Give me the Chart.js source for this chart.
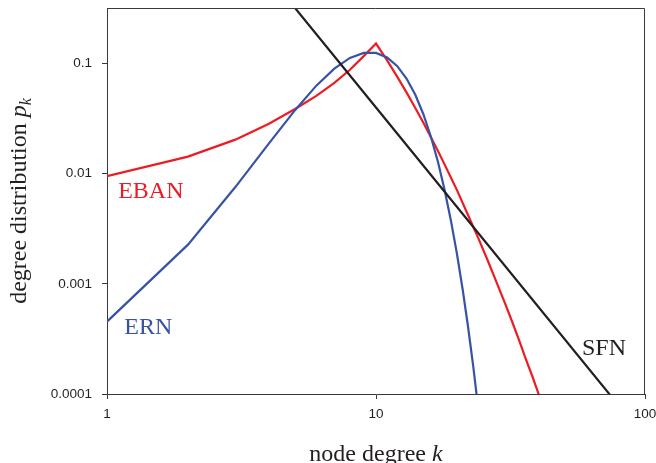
<!DOCTYPE html>
<html>
<head>
<meta charset="utf-8">
<script src="https://cdn.jsdelivr.net/npm/chart.js@4.4.1/dist/chart.umd.min.js"></script>
<style>
  html, body { margin: 0; padding: 0; background: #fff; }
  canvas { display: block; }
</style>
</head>
<body>
<canvas id="chart" width="656" height="463"></canvas>
<script>
// ERN (random network)
const ernK = [1, 2, 3, 4, 5, 6, 7, 8, 9, 10, 11, 12, 13, 14, 15, 16, 17, 18, 19, 20, 21, 22, 23, 24, 25];
const ernP = [0.000454, 0.00227, 0.00757, 0.0189, 0.0378, 0.0631, 0.0901, 0.1126, 0.1251, 0.1251,
              0.1137, 0.0948, 0.0729, 0.0521, 0.0347, 0.0217, 0.0128, 0.00709, 0.00373, 0.00187,
              0.000889, 0.000404, 0.000176, 0.0000732, 0.0000293];

// EBAN
const ebanK = [1, 2, 3, 4, 5, 6, 7, 8, 9, 10, 11, 12, 13, 14, 15, 16, 17, 18, 19, 20,
               22, 24, 26, 28, 30, 32, 34, 36, 38, 40, 42];
const ebanP = [0.0095, 0.0143, 0.0204, 0.0285, 0.0387, 0.051, 0.067, 0.088, 0.117, 0.152,
               0.107, 0.0758, 0.0545, 0.0396, 0.029, 0.0215, 0.0161, 0.0121, 0.0092, 0.0071,
               0.0042, 0.0026, 0.00164, 0.00105, 0.00069, 0.00046, 0.00031, 0.00021, 0.000148, 0.000104, 0.000074];

// SFN (power law, straight line in log-log)
const sfnK = [1, 10, 100];
const sfnP = [40, 0.04, 0.00004];

const xTicks = [1, 10, 100];
const yTicks = [0.0001, 0.001, 0.01, 0.1];

const red = "#ed1c24";
const blue = "#3853a4";
const black = "#231f20";
const axisColor = "#3a3a3a";

// series names written inside the plot, at data coordinates
const seriesNames = [
    { text: "EBAN", k: 1.1, p: 0.00605, color: red },
    { text: "ERN", k: 1.16, p: 0.00035, color: blue },
    { text: "SFN", k: 58.3, p: 0.000226, color: black },
];

function points(ks, ps) {
    return ks.map((k, i) => ({ x: k, y: ps[i] }));
}

const serif = "'Liberation Serif', 'Times New Roman', serif";

function drawParts(ctx, parts, x, y) {
    // parts: [{text, font, dy}] drawn left to right, centred on x
    let total = 0;
    parts.forEach(p => { ctx.font = p.font; total += ctx.measureText(p.text).width; });
    let cx = x - total / 2;
    parts.forEach(p => {
        ctx.font = p.font;
        ctx.fillText(p.text, cx, y + (p.dy || 0));
        cx += ctx.measureText(p.text).width;
    });
}

const extras = {
    id: "extras",
    afterDraw(chart) {
        const { ctx, chartArea: a, scales } = chart;
        ctx.save();

        // box: top and right sides
        ctx.strokeStyle = axisColor;
        ctx.lineWidth = 1;
        ctx.beginPath();
        ctx.moveTo(a.left, a.top + 0.5);
        ctx.lineTo(a.right - 0.5, a.top + 0.5);
        ctx.lineTo(a.right - 0.5, a.bottom);
        ctx.stroke();

        // series names
        ctx.textAlign = "left";
        ctx.textBaseline = "alphabetic";
        ctx.font = "24px " + serif;
        seriesNames.forEach(n => {
            ctx.fillStyle = n.color;
            ctx.fillText(n.text, scales.x.getPixelForValue(n.k), scales.y.getPixelForValue(n.p));
        });

        // axis titles
        ctx.fillStyle = black;
        drawParts(ctx, [
            { text: "node degree ", font: "24px " + serif },
            { text: "k", font: "italic 24px " + serif },
        ], (a.left + a.right) / 2, 461);

        ctx.translate(26, (a.top + a.bottom) / 2);
        ctx.rotate(-Math.PI / 2);
        drawParts(ctx, [
            { text: "degree distribution ", font: "24px " + serif },
            { text: "p", font: "italic 24px " + serif },
            { text: "k", font: "italic 16px " + serif, dy: 5 },
        ], 0, 0);

        ctx.restore();
    },
};

const tickFont = { family: "'Liberation Sans', Arial, sans-serif", size: 13.5 };

new Chart(document.getElementById("chart"), {
    type: "line",
    data: {
        datasets: [
            { label: "SFN", data: points(sfnK, sfnP), borderColor: black, borderWidth: 2.2, pointRadius: 0, fill: false },
            { label: "ERN", data: points(ernK, ernP), borderColor: blue, borderWidth: 2.2, pointRadius: 0, fill: false },
            { label: "EBAN", data: points(ebanK, ebanP), borderColor: red, borderWidth: 2.2, pointRadius: 0, fill: false },
        ],
    },
    options: {
        responsive: false,
        animation: false,
        layout: { padding: { top: 8, right: 11, left: 0, bottom: 0 } },
        plugins: { legend: { display: false }, tooltip: { enabled: false } },
        scales: {
            x: {
                type: "logarithmic",
                min: 1,
                max: 100,
                afterBuildTicks: s => { s.ticks = xTicks.map(v => ({ value: v })); },
                ticks: { callback: v => String(v), font: tickFont, color: black, padding: 7, maxRotation: 0, autoSkip: false },
                grid: { drawOnChartArea: false, tickLength: 5, color: axisColor },
                border: { color: axisColor, width: 1 },
                afterFit: s => { s.height = 69; s.paddingLeft = 0; s.paddingRight = 0; },
            },
            y: {
                type: "logarithmic",
                min: 0.0001,
                max: 0.32,
                afterBuildTicks: s => { s.ticks = yTicks.map(v => ({ value: v })); },
                ticks: { callback: v => String(v), font: tickFont, color: black, padding: 10, autoSkip: false },
                grid: { drawOnChartArea: false, tickLength: 5, color: axisColor },
                border: { color: axisColor, width: 1 },
                afterFit: s => { s.width = 107; s.paddingTop = 0; s.paddingBottom = 0; },
            },
        },
    },
    plugins: [extras],
});
</script>
</body>
</html>
